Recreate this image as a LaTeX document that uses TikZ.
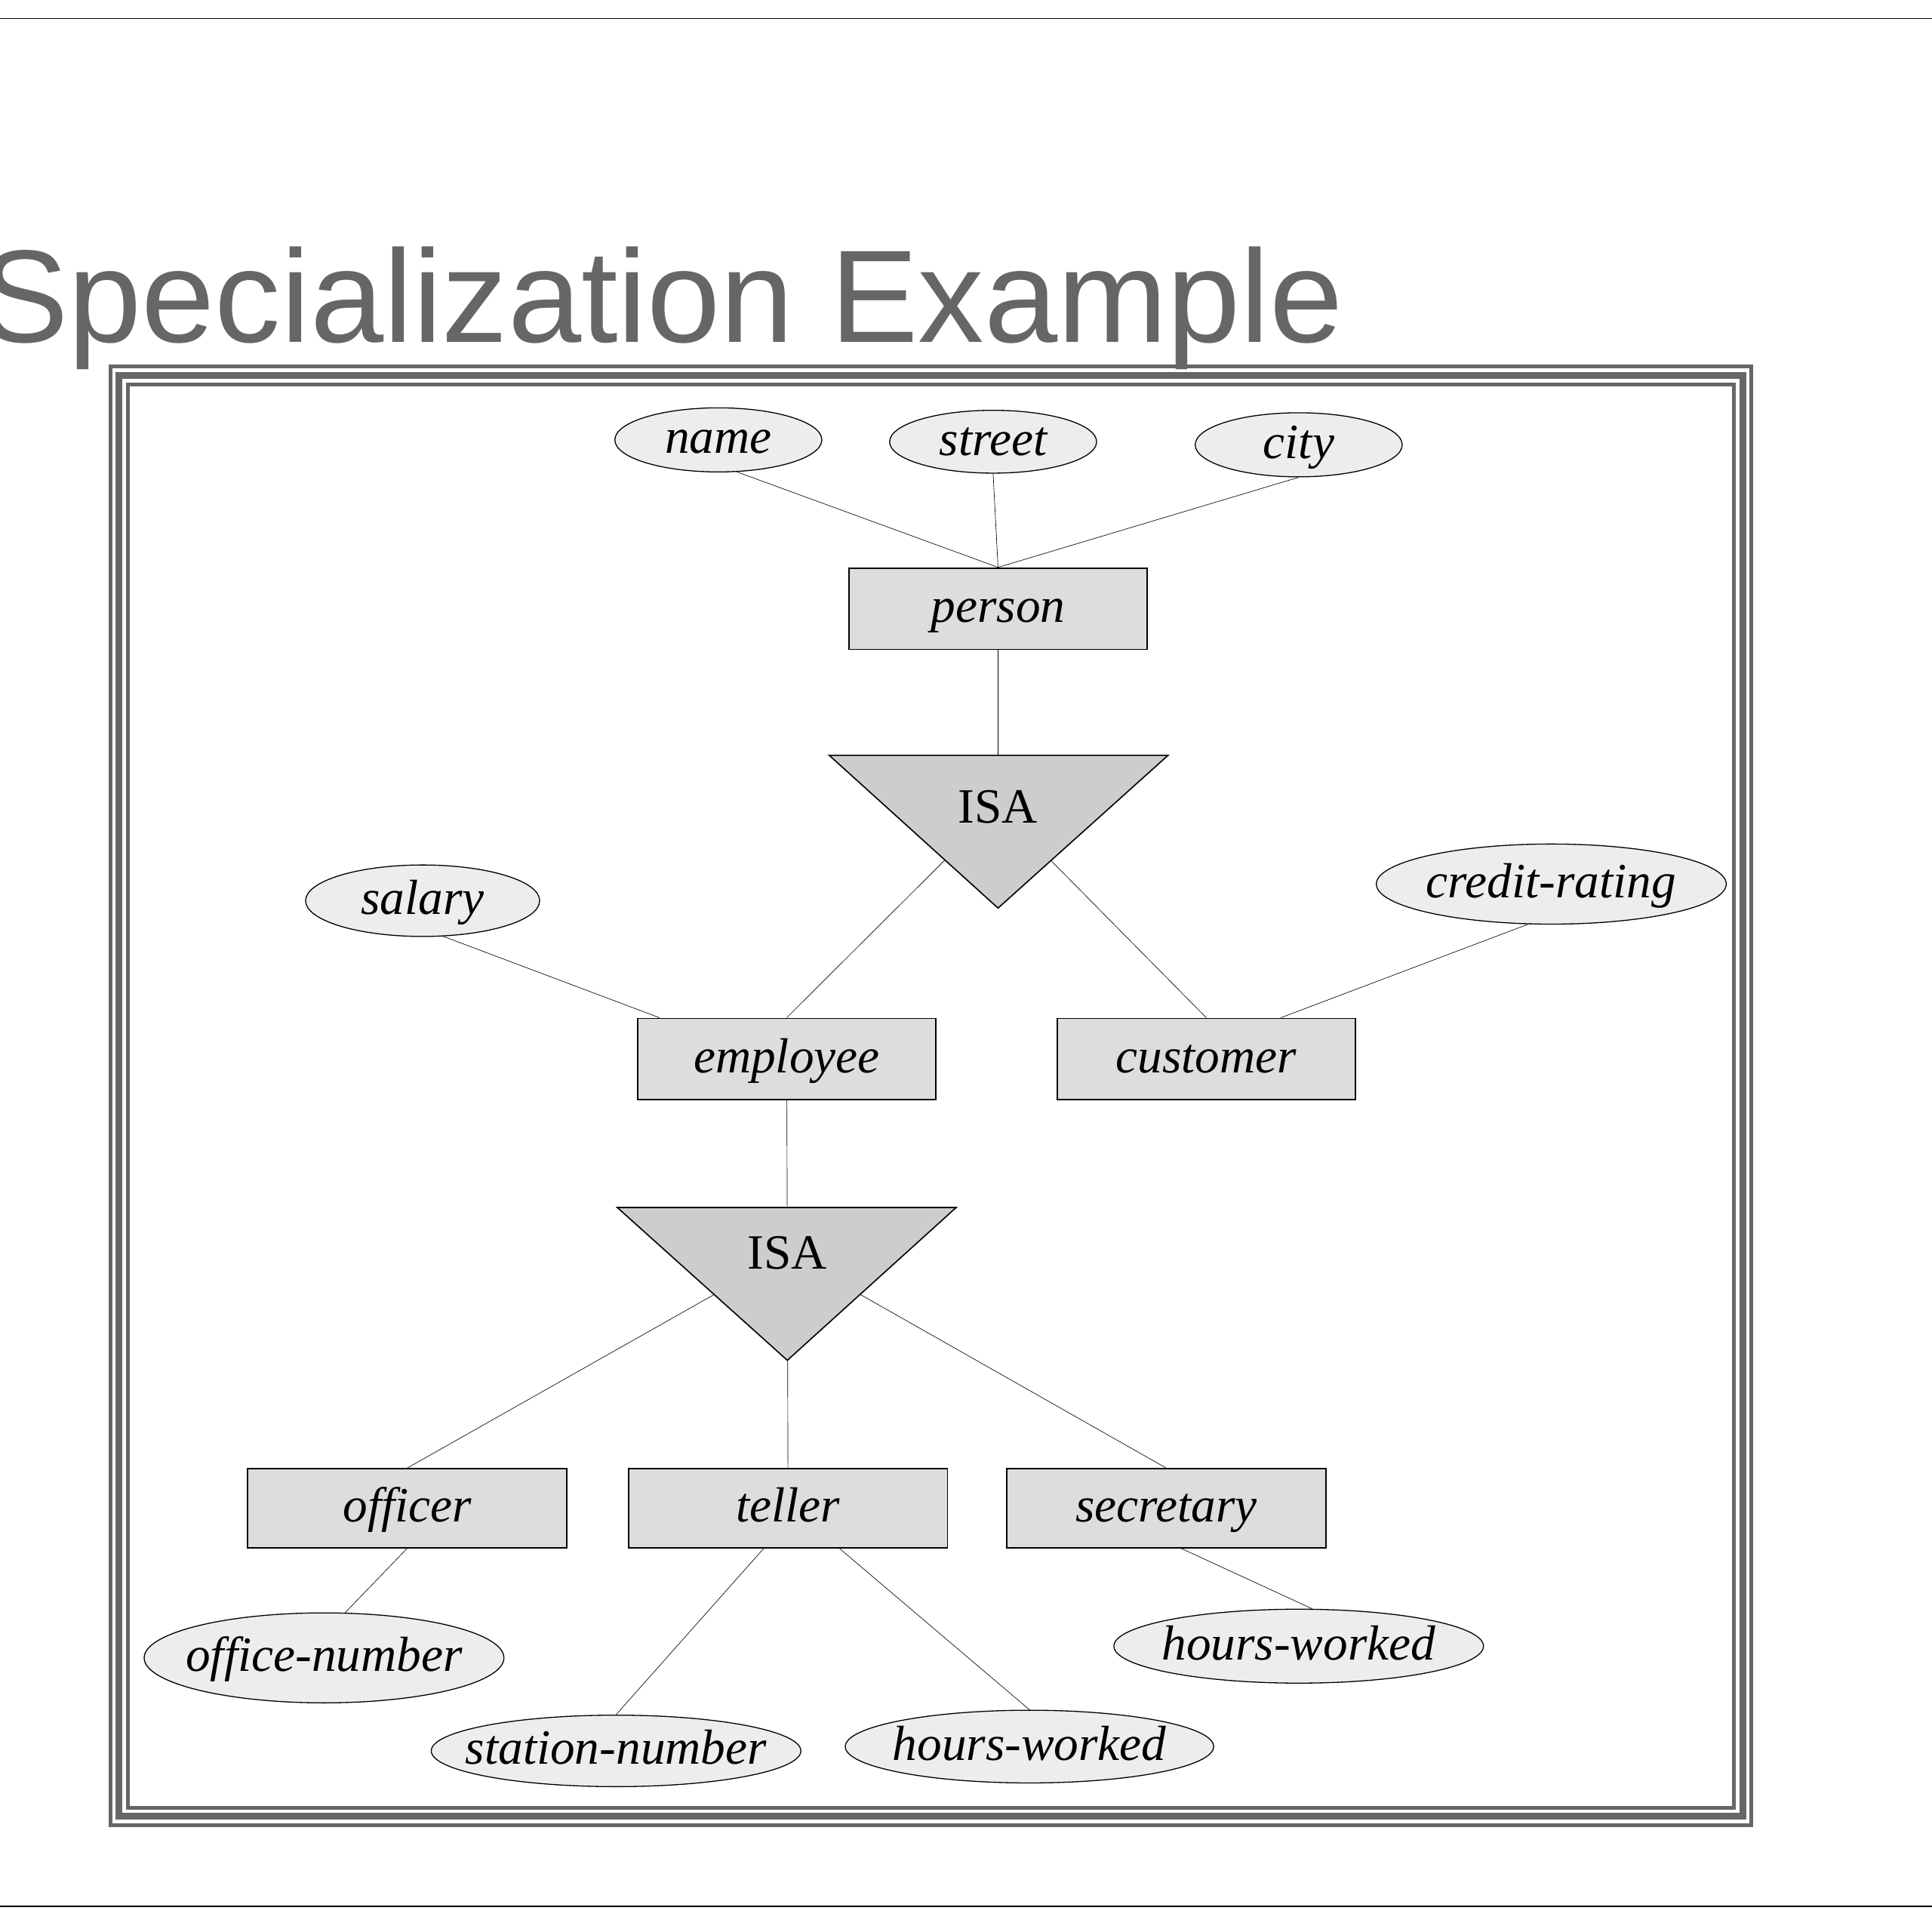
\documentclass[tikz,border=0pt]{standalone}
\usepackage{fontspec}
\setmainfont{Liberation Serif}
\newfontfamily\titlefont{Liberation Sans}
\usetikzlibrary{shapes.geometric,backgrounds,positioning}
\definecolor{Frame}{HTML}{666666}
\definecolor{AttrFill}{HTML}{EFECEF}
\definecolor{EntFill}{HTML}{DDDCDF}
\definecolor{IsaFill}{HTML}{CDCDCD}

\begin{document}
\begin{tikzpicture}[x=1pt,y=-1pt,
  every node/.style={inner sep=0pt,font=\fontsize{40}{48}\selectfont\itshape},
  word/.style={text height=28pt,text depth=6pt},
  attr/.style={draw,ellipse,fill=AttrFill,line width=0.8pt,label={[word]center:#1}},
  entity/.style={draw,rectangle,fill=EntFill,line width=1.1pt,word,minimum width=242pt,minimum height=66pt},
  subentity/.style={entity,minimum width=259pt,minimum height=64pt},
  isa/.style={draw,fill=IsaFill,line width=1pt,line join=miter},
  isatext/.style={font=\fontsize{40}{48}\selectfont\upshape},
  link/.style={line width=1pt}]
  \useasboundingbox (0,0) rectangle (1568,1568);
  % page rules and title
  \draw[line width=1.2pt] (0,15) -- (1568,15);
  \draw[line width=1.2pt] (0,1547) -- (1568,1547);
  \node[anchor=base west,font=\fontsize{107}{120}\selectfont\titlefont,text=Frame] (title) at (-16,278) {Specialization Example};
  % triple frame
  \foreach \d/\w in {0/3,7.25/5.5,14.5/3}
    \draw[Frame,line width=\w pt] (89.5+\d,297.5+\d) rectangle (1421.5-\d,1481.5-\d);

  % entity sets
  \node[entity] (person) at (810,494) {person};
  \node[entity] (employee) at (638.5,859.5) {employee};
  \node[entity] (customer) at (979,859.5) {customer};
  \node[subentity] (officer) at (330.5,1224) {officer};
  \node[subentity] (teller) at (639.5,1224) {teller};
  \node[subentity] (secretary) at (946.5,1224) {secretary};

  % attributes
  \node[attr=name,minimum width=168pt,minimum height=52pt] (name) at (583,357) {};
  \node[attr=street,minimum width=168pt,minimum height=51pt] (street) at (806,358.5) {};
  \node[attr=city,minimum width=168pt,minimum height=52pt] (city) at (1054,361) {};
  \node[attr=salary,minimum width=190pt,minimum height=58pt] (salary) at (343,731) {};
  \node[attr=credit-rating,minimum width=284pt,minimum height=65pt] (credit) at (1259,717.5) {};
  \node[attr=office-number,minimum width=292pt,minimum height=73pt] (officeno) at (263,1345.5) {};
  \node[attr=station-number,minimum width=300pt,minimum height=58pt] (stationno) at (500,1421) {};
  \node[attr=hours-worked,minimum width=299pt,minimum height=59pt] (hoursT) at (835.5,1417.5) {};
  \node[attr=hours-worked,minimum width=300pt,minimum height=60pt] (hoursS) at (1054,1336) {};

  % ISA triangles
  \path[isa] (673,613) -- (948,613) -- (810,737) -- cycle;
  \node[isatext] (isa1) at (810,655) {ISA};
  \path[isa] (501,980) -- (776,980) -- (639,1104) -- cycle;
  \node[isatext] (isa2) at (639,1017) {ISA};

  \begin{scope}[on background layer,link]
    \draw (name.-60) -- (person.north);
    \draw (street.south) -- (person.north);
    \draw (city.south) -- (person.north);
    \draw (person) -- (isa1);
    \draw (isa1) -- (employee.north);
    \draw (isa1) -- (customer.north);
    \draw (salary.-60) -- (employee.162);
    \draw (credit.-120) -- (customer.29);
    \draw (employee) -- (isa2);
    \draw (isa2) -- (officer.north);
    \draw (isa2) -- (teller.north);
    \draw (isa2) -- (secretary.north);
    \draw (officer.south) -- (officeno.65);
    \draw (teller.-121) -- (stationno.north);
    \draw (teller.-38) -- (hoursT.north);
    \draw (secretary.-70) -- (hoursS.70);
  \end{scope}
\end{tikzpicture}
\end{document}
